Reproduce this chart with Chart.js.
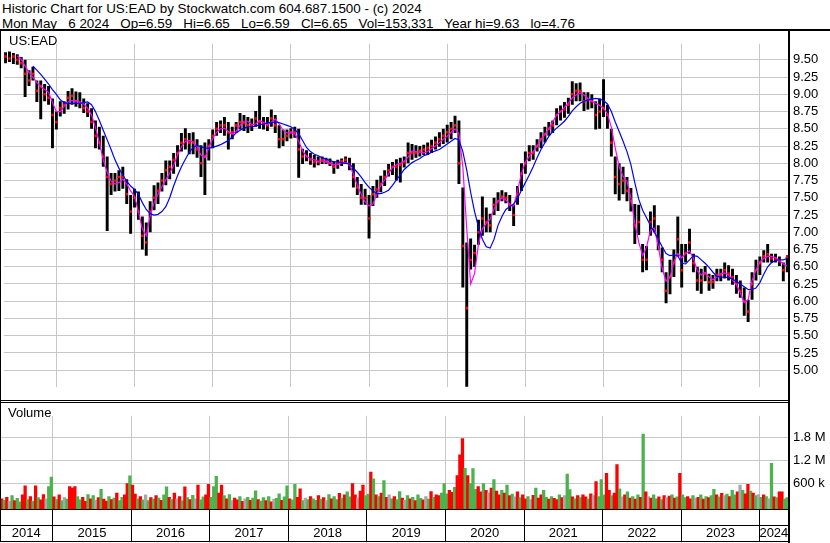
<!DOCTYPE html>
<html>
<head>
<meta charset="utf-8">
<script src="https://cdn.jsdelivr.net/npm/chart.js@4.4.1/dist/chart.umd.min.js"></script>
<style>
  html, body { margin: 0; padding: 0; background: #fff; }
  #page { position: relative; width: 830px; height: 543px; overflow: hidden;
          font-family: "Liberation Sans", Arial, sans-serif; color: #000; }
  #head { position: absolute; left: 2px; top: 1px; font-size: 13.4px; line-height: 15px; white-space: pre; }
  canvas { position: absolute; left: 0; }
  .rule { position: absolute; background: #000; }
  .tag { position: absolute; font-size: 13px; line-height: 15px; white-space: pre; }
</style>
</head>
<body>
<div id="page">
  <div id="head">Historic Chart for US:EAD by Stockwatch.com 604.687.1500 - (c) 2024
Mon May   6 2024   Op=6.59   Hi=6.65   Lo=6.59   Cl=6.65   Vol=153,331   Year hi=9.63   lo=4.76</div>
  <canvas id="price" width="830" height="369" style="top:31px"></canvas>
  <canvas id="volume" width="830" height="140" style="top:403px"></canvas>
  <div class="rule" style="left:0;top:29px;width:830px;height:2px"></div>
  <div class="rule" style="left:0;top:31px;width:1px;height:511px"></div>
  <div class="rule" style="left:788px;top:29px;width:2px;height:514px"></div>
  <div class="rule" style="left:0;top:400px;width:789px;height:1px"></div>
  <div class="rule" style="left:0;top:402px;width:789px;height:1px"></div>
  <div class="rule" style="left:0;top:541px;width:789px;height:1px"></div>
  <div class="tag" style="left:9px;top:33px">US:EAD</div>
  <div class="tag" style="left:8px;top:405px">Volume</div>
</div>
<script>
// time axis: fractional years, one price sample every 0.05 yr, one volume bar every 1/30 yr
const xMin = 2014.33;
const xMax = 2024.36;
const priceStart = 2014.35;
const priceStep = 0.05;
const volStart = 2014.35;
const volStep = 1 / 30;

const yearLabels = ['2014', '2015', '2016', '2017', '2018', '2019', '2020', '2021', '2022', '2023', '2024'];
const yearEdges = [2015, 2016, 2017, 2018, 2019, 2020, 2021, 2022, 2023, 2024];
const priceTicks = [5.00, 5.25, 5.50, 5.75, 6.00, 6.25, 6.50, 6.75, 7.00, 7.25,
                    7.50, 7.75, 8.00, 8.25, 8.50, 8.75, 9.00, 9.25, 9.50];
const volTicks = [600000, 1200000, 1800000];

const high = [
  9.61, 9.62, 9.60, 9.58, 9.54, 9.50, 9.35, 9.40, 9.20, 9.20,
  9.15, 9.12, 8.94, 8.75, 8.90, 8.90, 9.05, 9.09, 9.04, 9.03,
  8.94, 8.87, 8.80, 8.62, 8.53, 8.40, 8.10, 7.86, 7.86, 7.90,
  7.95, 7.77, 7.54, 7.63, 7.59, 7.23, 7.14, 7.45, 7.68, 7.72,
  7.86, 8.04, 8.04, 8.15, 8.26, 8.44, 8.51, 8.44, 8.45, 8.35,
  8.26, 8.30, 8.35, 8.49, 8.60, 8.62, 8.67, 8.60, 8.53, 8.60,
  8.73, 8.70, 8.67, 8.65, 8.76, 8.98, 8.67, 8.67, 8.78, 8.70,
  8.55, 8.49, 8.49, 8.51, 8.53, 8.50, 8.21, 8.19, 8.15, 8.12,
  8.10, 8.10, 8.08, 8.07, 8.03, 8.05, 8.07, 8.10, 8.08, 8.00,
  7.80, 7.70, 7.63, 7.54, 7.67, 7.76, 7.82, 7.90, 7.99, 8.02,
  8.06, 8.08, 8.10, 8.30, 8.28, 8.26, 8.25, 8.27, 8.30, 8.34,
  8.39, 8.45, 8.50, 8.56, 8.60, 8.69, 8.62, 7.65, 6.85, 6.91,
  6.82, 7.18, 7.52, 7.36, 7.27, 7.50, 7.58, 7.61, 7.58, 7.54,
  7.40, 7.67, 8.00, 8.17, 8.26, 8.26, 8.35, 8.45, 8.53, 8.60,
  8.62, 8.80, 8.84, 8.89, 8.95, 9.19, 9.16, 9.17, 9.03, 9.03,
  9.00, 8.90, 8.94, 9.22, 8.85, 8.50, 8.10, 8.00, 7.95, 7.80,
  7.64, 7.41, 7.40, 6.83, 6.80, 7.30, 7.39, 7.10, 6.78, 6.42,
  6.60, 6.75, 7.23, 6.83, 6.83, 7.05, 6.69, 6.50, 6.47, 6.51,
  6.40, 6.38, 6.47, 6.47, 6.56, 6.52, 6.47, 6.38, 6.30, 6.20,
  6.02, 6.42, 6.60, 6.65, 6.74, 6.83, 6.69, 6.69, 6.65, 6.56,
  6.65
];
const low = [
  9.45, 9.47, 9.44, 9.43, 9.38, 8.96, 9.12, 9.20, 8.89, 8.64,
  8.90, 8.85, 8.22, 8.49, 8.68, 8.72, 8.78, 8.85, 8.82, 8.80,
  8.73, 8.67, 8.50, 8.22, 8.20, 7.95, 7.02, 7.54, 7.59, 7.60,
  7.63, 7.41, 6.98, 7.36, 7.18, 6.75, 6.66, 7.00, 7.32, 7.41,
  7.59, 7.68, 7.77, 7.85, 7.95, 8.17, 8.20, 8.13, 8.13, 8.08,
  7.80, 7.54, 8.04, 8.22, 8.40, 8.44, 8.40, 8.20, 8.35, 8.44,
  8.49, 8.47, 8.44, 8.47, 8.53, 8.50, 8.49, 8.47, 8.53, 8.44,
  8.22, 8.25, 8.32, 8.36, 8.37, 7.79, 7.99, 8.03, 7.98, 7.94,
  7.97, 7.99, 7.99, 7.96, 7.85, 7.92, 7.96, 7.99, 7.90, 7.65,
  7.54, 7.40, 7.40, 6.91, 7.38, 7.50, 7.58, 7.67, 7.81, 7.83,
  7.75, 7.72, 7.94, 8.00, 8.05, 8.08, 8.10, 8.12, 8.12, 8.15,
  8.20, 8.24, 8.28, 8.30, 8.35, 8.44, 7.70, 6.20, 4.76, 6.46,
  6.50, 6.82, 6.95, 7.00, 7.00, 7.25, 7.31, 7.45, 7.42, 7.31,
  7.09, 7.40, 7.60, 7.85, 8.03, 8.05, 8.17, 8.22, 8.30, 8.40,
  8.44, 8.55, 8.62, 8.66, 8.72, 8.85, 8.90, 8.90, 8.76, 8.78,
  8.80, 8.49, 8.50, 8.67, 8.50, 8.10, 7.55, 7.46, 7.55, 7.45,
  7.30, 6.83, 6.96, 6.42, 6.45, 6.95, 7.00, 6.74, 6.42, 5.97,
  6.10, 6.35, 6.65, 6.20, 6.56, 6.69, 6.42, 6.15, 6.11, 6.29,
  6.15, 6.18, 6.29, 6.29, 6.33, 6.30, 6.24, 6.11, 6.05, 5.79,
  5.70, 6.02, 6.30, 6.38, 6.56, 6.56, 6.56, 6.56, 6.51, 6.29,
  6.42
];
const close = [
  9.55, 9.52, 9.55, 9.50, 9.45, 9.30, 9.20, 9.30, 9.05, 9.12,
  9.00, 8.95, 8.70, 8.60, 8.80, 8.85, 8.95, 8.98, 8.90, 8.88,
  8.80, 8.75, 8.60, 8.40, 8.30, 8.10, 7.80, 7.70, 7.75, 7.80,
  7.80, 7.55, 7.30, 7.50, 7.30, 6.95, 6.85, 7.30, 7.50, 7.60,
  7.75, 7.90, 7.95, 8.05, 8.15, 8.30, 8.35, 8.30, 8.30, 8.20,
  8.00, 8.10, 8.25, 8.40, 8.50, 8.55, 8.55, 8.45, 8.45, 8.55,
  8.60, 8.58, 8.55, 8.55, 8.65, 8.60, 8.58, 8.55, 8.65, 8.55,
  8.35, 8.35, 8.40, 8.45, 8.45, 8.20, 8.10, 8.10, 8.05, 8.02,
  8.02, 8.05, 8.03, 8.00, 7.95, 8.00, 8.03, 8.05, 7.98, 7.80,
  7.65, 7.50, 7.50, 7.20, 7.55, 7.62, 7.70, 7.80, 7.90, 7.95,
  7.95, 7.98, 8.02, 8.15, 8.15, 8.15, 8.18, 8.20, 8.22, 8.25,
  8.30, 8.35, 8.40, 8.45, 8.50, 8.55, 8.00, 6.80, 5.90, 6.60,
  6.70, 7.00, 7.20, 7.15, 7.10, 7.40, 7.45, 7.52, 7.50, 7.40,
  7.25, 7.55, 7.85, 8.00, 8.15, 8.15, 8.25, 8.35, 8.42, 8.50,
  8.55, 8.70, 8.75, 8.78, 8.85, 9.00, 9.05, 9.05, 8.90, 8.92,
  8.90, 8.70, 8.75, 8.80, 8.70, 8.30, 7.80, 7.70, 7.75, 7.60,
  7.45, 7.10, 7.15, 6.60, 6.60, 7.15, 7.20, 6.90, 6.60, 6.15,
  6.35, 6.55, 6.90, 6.45, 6.70, 6.85, 6.55, 6.30, 6.30, 6.40,
  6.28, 6.28, 6.38, 6.38, 6.45, 6.40, 6.35, 6.25, 6.15, 6.00,
  5.85, 6.25, 6.45, 6.55, 6.65, 6.68, 6.62, 6.62, 6.58, 6.45,
  6.65
];
// short moving average (magenta)
const maFast = [
  null, null, null, 9.56, 9.51, 9.41, 9.32, 9.25, 9.17, 9.11,
  9.07, 9.03, 8.88, 8.75, 8.75, 8.83, 8.89, 8.91, 8.91, 8.88,
  8.86, 8.80, 8.70, 8.52, 8.30, 8.05, 7.87, 7.74, 7.70, 7.72,
  7.77, 7.70, 7.60, 7.52, 7.30, 7.05, 6.95, 7.24, 7.43, 7.55,
  7.66, 7.76, 7.86, 7.97, 8.12, 8.24, 8.32, 8.33, 8.31, 8.24,
  8.12, 8.08, 8.23, 8.36, 8.45, 8.50, 8.51, 8.46, 8.42, 8.46,
  8.55, 8.61, 8.61, 8.56, 8.57, 8.62, 8.59, 8.56, 8.60, 8.64,
  8.57, 8.48, 8.44, 8.44, 8.43, 8.32, 8.18, 8.10, 8.07, 8.05,
  8.03, 8.03, 8.02, 8.00, 7.98, 7.98, 8.01, 8.01, 7.99, 7.84,
  7.68, 7.55, 7.44, 7.38, 7.41, 7.55, 7.68, 7.76, 7.85, 7.94,
  7.98, 8.00, 8.03, 8.09, 8.18, 8.17, 8.16, 8.15, 8.17, 8.21,
  8.25, 8.30, 8.35, 8.39, 8.45, 8.50, 8.43, 7.95, 7.05, 6.25,
  6.40, 6.83, 7.05, 7.13, 7.19, 7.34, 7.45, 7.50, 7.47, 7.40,
  7.38, 7.60, 7.85, 8.02, 8.10, 8.17, 8.25, 8.35, 8.42, 8.50,
  8.60, 8.70, 8.75, 8.81, 8.87, 8.95, 8.99, 9.02, 8.99, 8.94,
  8.90, 8.87, 8.84, 8.80, 8.72, 8.52, 8.22, 7.95, 7.81, 7.74,
  7.50, 7.13, 6.86, 6.66, 6.78, 7.03, 7.06, 6.80, 6.48, 6.29,
  6.35, 6.57, 6.69, 6.63, 6.69, 6.73, 6.62, 6.44, 6.38, 6.42,
  6.35, 6.31, 6.35, 6.40, 6.41, 6.38, 6.31, 6.24, 6.12, 5.98,
  6.02, 6.30, 6.45, 6.57, 6.62, 6.65, 6.65, 6.63, 6.59, 6.54,
  6.51
];
// long moving average (blue)
const maSlow = [
  null, null, null, null, null, null, null, 9.41, 9.35, 9.29,
  9.22, 9.15, 9.07, 9.00, 8.92, 8.88, 8.87, 8.87, 8.87, 8.87,
  8.88, 8.89, 8.85, 8.75, 8.62, 8.48, 8.34, 8.20, 8.05, 7.93,
  7.83, 7.74, 7.67, 7.62, 7.55, 7.43, 7.33, 7.27, 7.25, 7.26,
  7.30, 7.37, 7.50, 7.67, 7.82, 7.95, 8.06, 8.16, 8.23, 8.26,
  8.24, 8.22, 8.22, 8.23, 8.25, 8.27, 8.30, 8.33, 8.38, 8.44,
  8.48, 8.51, 8.53, 8.53, 8.54, 8.56, 8.57, 8.59, 8.59, 8.60,
  8.59, 8.57, 8.55, 8.53, 8.49, 8.43, 8.33, 8.23, 8.17, 8.13,
  8.11, 8.08, 8.06, 8.04, 8.02, 8.02, 8.01, 8.00, 7.99, 7.93,
  7.87, 7.80, 7.72, 7.65, 7.60, 7.56, 7.56, 7.58, 7.61, 7.68,
  7.76, 7.83, 7.91, 7.96, 8.01, 8.04, 8.07, 8.11, 8.13, 8.16,
  8.18, 8.20, 8.24, 8.28, 8.32, 8.36, 8.34, 8.17, 7.90, 7.58,
  7.30, 7.08, 6.90, 6.79, 6.77, 6.90, 7.10, 7.23, 7.33, 7.37,
  7.41, 7.49, 7.61, 7.72, 7.83, 7.95, 8.08, 8.20, 8.30, 8.39,
  8.46, 8.51, 8.56, 8.61, 8.68, 8.76, 8.82, 8.87, 8.90, 8.92,
  8.93, 8.94, 8.93, 8.91, 8.86, 8.75, 8.60, 8.46, 8.32, 8.17,
  7.98, 7.72, 7.48, 7.32, 7.21, 7.10, 7.00, 6.90, 6.79, 6.69,
  6.66, 6.67, 6.66, 6.55, 6.54, 6.60, 6.66, 6.65, 6.60, 6.55,
  6.49, 6.42, 6.36, 6.35, 6.35, 6.34, 6.32, 6.29, 6.25, 6.21,
  6.17, 6.17, 6.19, 6.27, 6.39, 6.50, 6.56, 6.59, 6.60, 6.60,
  6.62
];
// volume in thousands of shares
const volume = [
  200, 160, 240, 130, 280, 150, 210, 120, 300, 540,
  180, 260, 140, 540, 230, 170, 310, 200, 520, 770,
  250, 180, 300, 150, 230, 190, 520, 480, 520, 260,
  170, 240, 130, 310, 200, 280, 160, 230, 450, 190,
  140, 260, 180, 220, 350, 150, 240, 300, 600, 800,
  560, 320, 200, 260, 170, 300, 150, 230, 190, 280,
  220, 160, 300, 510, 240, 180, 350, 200, 260, 150,
  510, 230, 180, 290, 200, 560, 170, 250, 300, 580,
  240, 520, 790, 350, 560, 280, 200, 310, 150, 220,
  170, 260, 130, 200, 240, 160, 220, 410, 180, 140,
  230, 150, 260, 120, 190, 210, 330, 160, 250, 540,
  200, 170, 580, 240, 460, 150, 220, 180, 260, 200,
  160, 280, 190, 230, 150, 310, 200, 260, 180, 340,
  220, 300, 380, 250, 600, 300, 220, 400, 560, 280,
  320, 900, 720, 300, 260, 350, 680, 240, 300, 200,
  260, 180, 390, 220, 160, 280, 200, 240, 150, 300,
  210, 170, 260, 190, 390, 240, 300, 280, 350, 600,
  330, 420, 370, 500, 810, 1350, 1780, 1000, 810, 600,
  990, 450, 520, 380, 600, 420, 350, 480, 700, 400,
  300, 420, 350, 560, 280, 320, 250, 380, 230, 300,
  200, 260, 180, 290, 480, 220, 300, 420, 240, 190,
  260, 210, 180, 300, 230, 280, 850, 440, 250, 200,
  280, 230, 300, 250, 190, 330, 280, 650, 260, 700,
  300, 870, 420, 280, 350, 1100, 460, 250, 300, 380,
  220, 260, 190, 300, 240, 1900, 380, 260, 220, 300,
  200, 250, 180, 280, 230, 270, 300, 220, 250, 870,
  300, 230, 260, 200, 280, 220, 240, 300, 190, 260,
  230, 280, 450, 300, 250, 340, 280, 320, 260, 420,
  300, 380, 560, 420, 330, 580, 400, 350, 280, 310,
  240, 300, 260, 200, 1130, 250, 230, 380, 380, 200,
  230
];
// day direction for each volume bar: u = up, d = down, n = unchanged
const volDir = (
  'dudnuduudd' + 'udududdnuu' + 'dudunudddu' + 'uddudundud' + 'dududuuddu' +
  'ddudunudud' + 'uduududndu' + 'dudunduudd' + 'uuuddudund' + 'dudnuduudu' +
  'ududnuuduu' + 'duuddunudu' + 'ududnuduud' + 'uduuddnddu' + 'ududududnu' +
  'duudnududu' + 'udnududduu' + 'uddudddudu' + 'uuddudndud' + 'dududundud' +
  'dundudduud' + 'uddudnuudu' + 'duddudnduu' + 'udduddundu' + 'dudududndu' +
  'ududndudud' + 'uuddundudu' + 'duududnudu' + 'udnuddudun' + 'udunududdu' + 'u'
).split('');

const gridColor = '#c8c8c8';
const dirColor = { u: '#4cb34c', d: '#ff0000', n: '#a8a8a8' };
const fontSpec = { family: '"Liberation Sans", Arial, sans-serif', size: 13 };

Chart.defaults.color = '#000';
Chart.defaults.font.family = fontSpec.family;

const priceT = i => priceStart + i * priceStep;
const series = arr => arr.map((v, i) => ({ x: priceT(i), y: v })).filter(p => p.y !== null);

const baseOptions = {
  responsive: false,
  animation: false,
  devicePixelRatio: 1,
  layout: { padding: 0 },
  plugins: { legend: { display: false }, tooltip: { enabled: false } },
};

new Chart(document.getElementById('price'), {
  type: 'bar',
  data: {
    datasets: [
      {
        type: 'line', data: series(maSlow), borderColor: '#0000ff', borderWidth: 1.2,
        pointRadius: 0, tension: 0, order: 0,
      },
      {
        type: 'line', data: series(maFast), borderColor: '#ff00ff', borderWidth: 1.2,
        pointRadius: 0, tension: 0, order: 1,
      },
      {
        type: 'scatter', data: series(close), pointStyle: 'rect', pointRadius: 1.8,
        backgroundColor: '#ff0000', borderWidth: 0, order: 2,
      },
      {
        type: 'bar', data: high.map((h, i) => ({ x: priceT(i), y: [low[i], h] })),
        backgroundColor: '#000', barPercentage: 0.75, categoryPercentage: 1, order: 3,
      },
    ],
  },
  options: {
    ...baseOptions,
    scales: {
      x: {
        type: 'linear', min: xMin, max: xMax, offset: false,
        afterBuildTicks: s => { s.ticks = yearEdges.map(v => ({ value: v })); },
        afterFit: s => { s.height = 0; },
        grid: { color: gridColor, drawTicks: false, offset: false },
        border: { display: false },
        ticks: { display: false },
      },
      y: {
        position: 'right', min: 4.753, max: 9.733,
        afterBuildTicks: s => { s.ticks = priceTicks.map(v => ({ value: v })); },
        afterFit: s => { s.width = 42; },
        grid: { color: gridColor, drawTicks: false },
        border: { display: false },
        ticks: { font: fontSpec, padding: 5, callback: v => v.toFixed(2) },
      },
    },
  },
});

// label positions: middle of the visible part of each year
const labelPos = yearLabels.map(y => (Math.max(+y, xMin) + Math.min(+y + 1, xMax)) / 2);
const volMin = -69000;
const isLabelTick = ctx => !!(ctx && ctx.tick && labelPos.includes(ctx.tick.value));

new Chart(document.getElementById('volume'), {
  type: 'bar',
  data: {
    datasets: [{
      data: volume.map((v, j) => ({ x: volStart + j * volStep, y: v * 1000 })),
      backgroundColor: volDir.map(d => dirColor[d]),
      barPercentage: 1, categoryPercentage: 1, base: volMin,
    }],
  },
  options: {
    ...baseOptions,
    scales: {
      x: {
        type: 'linear', position: 'bottom', min: xMin, max: xMax, offset: false,
        afterBuildTicks: s => { s.ticks = yearEdges.map(v => ({ value: v })); },
        afterFit: s => { s.height = 16; },
        grid: { color: gridColor, tickColor: '#000', tickLength: 16, offset: false },
        border: { color: '#000', width: 2 },
        ticks: { display: false },
      },
      x2: {
        type: 'linear', position: 'bottom', min: xMin, max: xMax, offset: false,
        afterBuildTicks: s => {
          s.ticks = yearEdges.concat(labelPos).sort((a, b) => a - b).map(v => ({ value: v }));
        },
        afterFit: s => { s.height = 18; },
        grid: {
          drawOnChartArea: false, tickLength: 16, offset: false,
          tickColor: ctx => (isLabelTick(ctx) ? 'rgba(0,0,0,0)' : '#000'),
        },
        border: { color: '#000', width: 1 },
        ticks: {
          font: fontSpec, padding: -15, autoSkip: false, maxRotation: 0,
          callback: v => { const k = labelPos.indexOf(v); return k >= 0 ? yearLabels[k] : ''; },
        },
      },
      y: {
        position: 'right', min: volMin, max: 2377000,
        afterBuildTicks: s => { s.ticks = volTicks.map(v => ({ value: v })); },
        afterFit: s => { s.width = 42; },
        grid: { color: gridColor, drawTicks: false },
        border: { display: false },
        ticks: {
          font: fontSpec, padding: 5,
          callback: v => (v >= 1000000 ? (v / 1000000).toFixed(1) + ' M' : (v / 1000) + ' k'),
        },
      },
    },
  },
});
</script>
</body>
</html>
